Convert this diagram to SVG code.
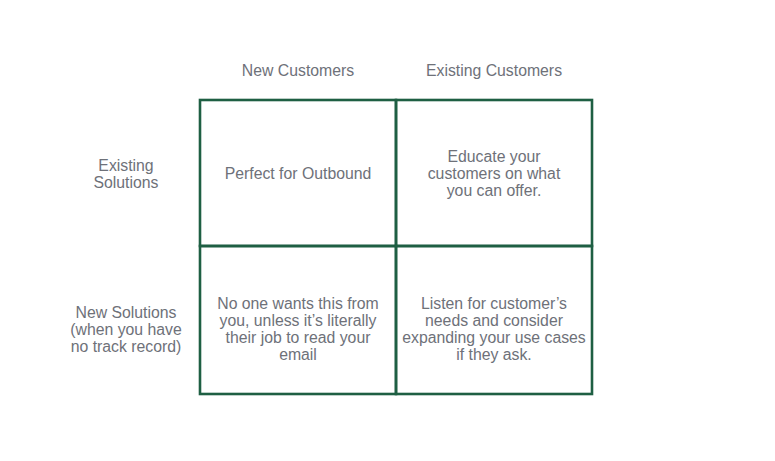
<svg xmlns="http://www.w3.org/2000/svg" width="775" height="461" viewBox="0 0 775 461">
<style>
text{font-family:"Liberation Sans",Arial,sans-serif;font-size:15.8px;fill:#6e7179;text-anchor:middle}
.cell{fill:none;stroke:#1e5f43;stroke-width:2.6}
</style>
<rect width="775" height="461" fill="#ffffff"/>
<g id="col-new"><text x="298" y="76">New Customers</text></g>
<g id="col-existing"><text x="494" y="76">Existing Customers</text></g>
<g id="row-existing"><text x="126" y="171">Existing</text><text x="126" y="188">Solutions</text></g>
<g id="row-new"><text x="126" y="318">New Solutions</text><text x="126" y="335">(when you have</text><text x="126" y="352">no track record)</text></g>
<g id="cell-tl"><rect class="cell" x="200" y="100" width="196" height="146"/><text x="298" y="179">Perfect for Outbound</text></g>
<g id="cell-tr"><rect class="cell" x="396" y="100" width="196" height="146"/><text x="494" y="162">Educate your</text><text x="494" y="179">customers on what</text><text x="494" y="196">you can offer.</text></g>
<g id="cell-bl"><rect class="cell" x="200" y="246" width="196" height="148"/><text x="298" y="309">No one wants this from</text><text x="298" y="326">you, unless it’s literally</text><text x="298" y="343">their job to read your</text><text x="298" y="360">email</text></g>
<g id="cell-br"><rect class="cell" x="396" y="246" width="196" height="148"/><text x="494" y="309">Listen for customer’s</text><text x="494" y="326">needs and consider</text><text x="494" y="343">expanding your use cases</text><text x="494" y="360">if they ask.</text></g>
<g id="connectors"></g>
</svg>
